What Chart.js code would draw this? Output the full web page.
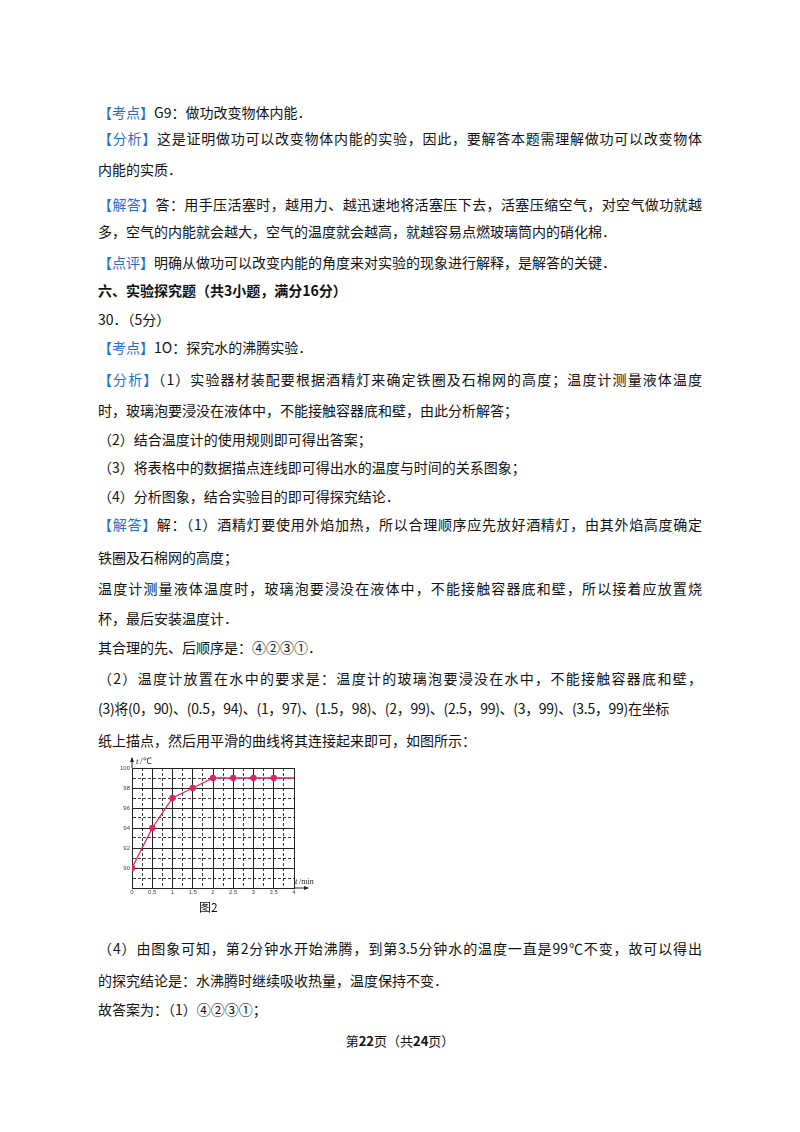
<!DOCTYPE html>
<html><head><meta charset="utf-8">
<script src="https://cdn.jsdelivr.net/npm/chart.js@4/dist/chart.umd.min.js"></script>
<style>
body{margin:0;width:800px;height:1132px;background:#fff;position:relative;font-family:"Noto Sans CJK SC","Noto Sans",sans-serif;color:#111;}
.l{position:absolute;left:98px;font-size:14px;line-height:20px;white-space:nowrap;}
.f{width:604px;text-align:justify;text-align-last:justify;white-space:normal;}
.b{color:#1f6fd0;}
#cw{position:absolute;left:110px;top:755px;width:230px;height:160px;}
</style></head><body>
<div class="l" style="top:102px"><span class="b">【考点】</span>G9：做功改变物体内能．</div>
<div class="l f" style="top:128px"><span class="b">【分析】</span>这是证明做功可以改变物体内能的实验，因此，要解答本题需理解做功可以改变物体</div>
<div class="l" style="top:159px">内能的实质．</div>
<div class="l f" style="top:194px"><span class="b">【解答】</span>答：用手压活塞时，越用力、越迅速地将活塞压下去，活塞压缩空气，对空气做功就越</div>
<div class="l" style="top:221px">多，空气的内能就会越大，空气的温度就会越高，就越容易点燃玻璃筒内的硝化棉．</div>
<div class="l" style="top:252px"><span class="b">【点评】</span>明确从做功可以改变内能的角度来对实验的现象进行解释，是解答的关键．</div>
<div class="l" style="top:280px;font-weight:bold">六、实验探究题（共3小题，满分16分）</div>
<div class="l" style="top:309px">30．（5分）</div>
<div class="l" style="top:337px"><span class="b">【考点】</span>1O：探究水的沸腾实验．</div>
<div class="l f" style="top:369px"><span class="b">【分析】</span>（1）实验器材装配要根据酒精灯来确定铁圈及石棉网的高度；温度计测量液体温度</div>
<div class="l" style="top:400px">时，玻璃泡要浸没在液体中，不能接触容器底和壁，由此分析解答；</div>
<div class="l" style="top:429px">（2）结合温度计的使用规则即可得出答案；</div>
<div class="l" style="top:457px">（3）将表格中的数据描点连线即可得出水的温度与时间的关系图象；</div>
<div class="l" style="top:486px">（4）分析图象，结合实验目的即可得探究结论．</div>
<div class="l f" style="top:514px"><span class="b">【解答】</span>解：（1）酒精灯要使用外焰加热，所以合理顺序应先放好酒精灯，由其外焰高度确定</div>
<div class="l" style="top:547px">铁圈及石棉网的高度；</div>
<div class="l f" style="top:578px">温度计测量液体温度时，玻璃泡要浸没在液体中，不能接触容器底和壁，所以接着应放置烧</div>
<div class="l" style="top:608px">杯，最后安装温度计．</div>
<div class="l" style="top:637px">其合理的先、后顺序是：④②③①．</div>
<div class="l f" style="top:668px">（2）温度计放置在水中的要求是：温度计的玻璃泡要浸没在水中，不能接触容器底和壁，</div>
<div class="l" style="top:698px;letter-spacing:-0.3px">(3)将(0，90)、(0.5，94)、(1，97)、(1.5，98)、(2，99)、(2.5，99)、(3，99)、(3.5，99)在坐标</div>
<div class="l" style="top:730px">纸上描点，然后用平滑的曲线将其连接起来即可，如图所示：</div>
<div id="cw"><canvas id="c"></canvas></div>
<div class="l" style="top:897px;left:199px;font-size:12px">图2</div>
<div class="l f" style="top:938px">（4）由图象可知，第2分钟水开始沸腾，到第3.5分钟水的温度一直是99℃不变，故可以得出</div>
<div class="l" style="top:970px">的探究结论是：水沸腾时继续吸收热量，温度保持不变．</div>
<div class="l" style="top:999px">故答案为：（1）④②③①；</div>
<div class="l" style="top:1031px;left:0;width:800px;text-align:center;font-size:13px">第<b>22</b>页（共<b>24</b>页）</div>
<script>
const times=[0,0.5,1,1.5,2,2.5,3,3.5];
const temps=[90,94,97,98,99,99,99,99];
const lineEnd={x:4,y:99};
const pts=times.map((t,i)=>({x:t,y:temps[i]}));
const axisLabels={id:'al',afterDraw(ch){const g=ch.ctx,a=ch.chartArea;g.save();g.fillStyle='#222';g.strokeStyle='#222';
g.beginPath();g.moveTo(a.left,a.top);g.lineTo(a.left,a.top-10);g.stroke();
g.beginPath();g.moveTo(a.left-2,a.top-6);g.lineTo(a.left,a.top-11);g.lineTo(a.left+2,a.top-6);g.fill();
g.beginPath();g.moveTo(a.right,a.bottom);g.lineTo(a.right+14,a.bottom);g.stroke();
g.beginPath();g.moveTo(a.right+10,a.bottom-2);g.lineTo(a.right+15,a.bottom);g.lineTo(a.right+10,a.bottom+2);g.fill();
g.font='italic 9px "Liberation Serif"';g.fillText('t',a.left+4,a.top-4);g.font='9px "Liberation Serif"';g.fillText('/℃',a.left+8,a.top-4);
g.font='italic 9px "Liberation Serif"';g.fillText('t',a.right+1,a.bottom-4);g.font='8px "Liberation Serif"';g.fillText('/min',a.right+5,a.bottom-4);g.restore();}};
new Chart(document.getElementById('c'),{type:'line',
data:{datasets:[{data:[...pts,lineEnd],borderColor:'#e0245e',backgroundColor:'#e0245e',borderWidth:1.3,
pointRadius:c=>c.dataIndex<pts.length?2.5:0,tension:0}]},
plugins:[axisLabels],
options:{responsive:true,maintainAspectRatio:false,animation:false,
layout:{padding:{top:13,right:46,left:0,bottom:0}},
plugins:{legend:{display:false},tooltip:{enabled:false}},
scales:{
x:{type:'linear',min:0,max:4,afterFit:s=>{s.height=27},
ticks:{stepSize:0.25,autoSkip:false,maxRotation:0,font:{size:6},color:'#444',padding:1,callback:v=>Math.round(v*100)%50===0?v:''},
grid:{color:'#222',lineWidth:c=>Math.round(c.tick.value*100)%50===0?1:0.9,drawTicks:false},
border:{color:'#222',dash:c=>Math.round(c.tick.value*100)%50===0?[]:[3,2]}},
y:{min:88,max:100,afterFit:s=>{s.width=22},
ticks:{stepSize:1,autoSkip:false,font:{size:6},color:'#444',padding:2,callback:v=>(v%2===0&&v>88)?v:''},
grid:{color:'#222',lineWidth:c=>c.tick.value%2===0?1:0.9,drawTicks:false},
border:{color:'#222',dash:c=>c.tick.value%2===0?[]:[3,2]}}}}});
</script>
</body></html>
